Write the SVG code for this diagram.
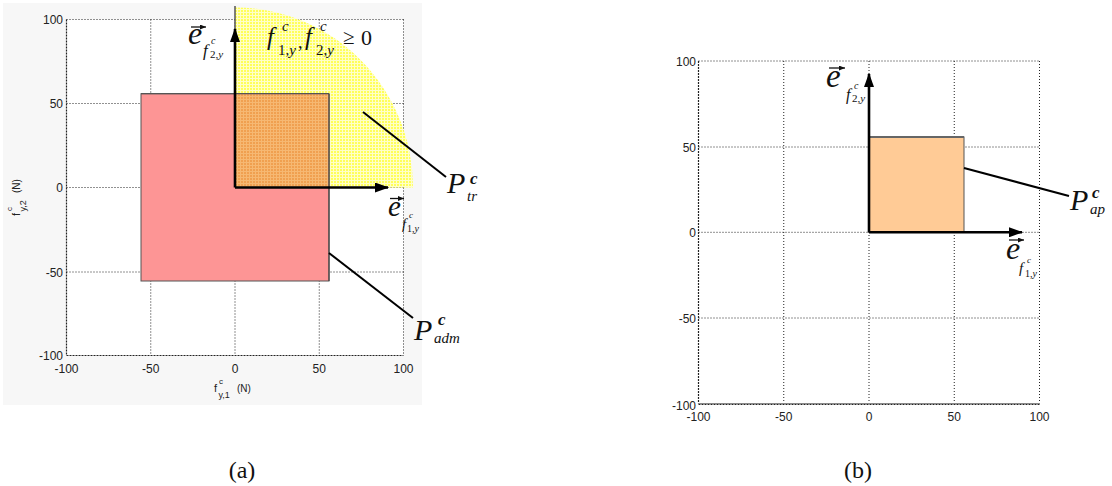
<svg xmlns="http://www.w3.org/2000/svg" width="1112" height="486" viewBox="0 0 1112 486">
<style>
.tick{font-family:"Liberation Sans",Arial,sans-serif;font-size:12px;fill:#222}
.grid{stroke:#222;stroke-width:1;stroke-dasharray:1,2;fill:none}
.axis{stroke:#222;stroke-width:1.2;stroke-dasharray:2,1;fill:none}
.vec{stroke:#000;stroke-width:2.6;fill:none}
.lead{stroke:#000;stroke-width:2;fill:none}
.m{font-family:"Liberation Serif","Times New Roman",serif;font-style:italic;fill:#111}
.r{font-family:"Liberation Serif","Times New Roman",serif;fill:#111}
.acc{stroke:#111;stroke-width:1.3;fill:none}
.cap{font-family:"Liberation Serif","Times New Roman",serif;font-size:24px;fill:#111}
</style>
<defs>
<marker id="ah" markerUnits="userSpaceOnUse" markerWidth="14" markerHeight="10" refX="13" refY="5" orient="auto">
<path d="M0,0 L14,5 L0,10 Z" fill="#000"/>
</marker>
<marker id="sa" markerUnits="userSpaceOnUse" markerWidth="6" markerHeight="5" refX="6" refY="2.5" orient="auto">
<path d="M0,0 L6,2.5 L0,5 Z" fill="#111"/>
</marker>
<pattern id="yel" width="3" height="3" patternUnits="userSpaceOnUse">
<rect width="3" height="3" fill="#ffff5a"/>
<rect width="3" height="1" fill="#ffffc8"/>
<rect width="1" height="3" fill="#ffffc8"/>
</pattern>
<pattern id="org" width="3" height="3" patternUnits="userSpaceOnUse">
<rect width="3" height="3" fill="#f0a050"/>
<rect width="3" height="1" fill="#f6b872"/>
<rect width="1" height="3" fill="#f6b872"/>
</pattern>
</defs>

<rect width="1112" height="486" fill="#fff"/>

<!-- Panel (a) -->
<g id="panel-a">
<rect x="3" y="3" width="419" height="402" fill="#f7f7f7"/>
<rect x="66.5" y="19.5" width="337" height="336" fill="#fff"/>
<g id="grid-a">
<line class="grid" x1="150.75" y1="19.5" x2="150.75" y2="355.5"/>
<line class="grid" x1="235" y1="19.5" x2="235" y2="355.5"/>
<line class="grid" x1="319.25" y1="19.5" x2="319.25" y2="355.5"/>
<line class="grid" x1="403.5" y1="19.5" x2="403.5" y2="355.5"/>
<line class="grid" x1="66.5" y1="19.5" x2="403.5" y2="19.5"/>
<line class="grid" x1="66.5" y1="103.5" x2="403.5" y2="103.5"/>
<line class="grid" x1="66.5" y1="187.5" x2="403.5" y2="187.5"/>
<line class="grid" x1="66.5" y1="272" x2="403.5" y2="272"/>
<line class="axis" x1="66.5" y1="19.5" x2="66.5" y2="355.5"/>
<line class="axis" x1="66.5" y1="355.5" x2="403.5" y2="355.5"/>
</g>
<g id="ticks-a" class="tick">
<text x="63" y="24" text-anchor="end">100</text>
<text x="63" y="108" text-anchor="end">50</text>
<text x="63" y="192" text-anchor="end">0</text>
<text x="63" y="277" text-anchor="end">-50</text>
<text x="63" y="360" text-anchor="end">-100</text>
<text x="66.5" y="373" text-anchor="middle">-100</text>
<text x="150.75" y="373" text-anchor="middle">-50</text>
<text x="235" y="373" text-anchor="middle">0</text>
<text x="319.25" y="373" text-anchor="middle">50</text>
<text x="403.5" y="373" text-anchor="middle">100</text>
</g>
<g id="xlabel-a" font-family="Liberation Sans, Arial, sans-serif" fill="#222">
<text x="214" y="392" font-size="11">f</text>
<text x="219" y="384" font-size="8">c</text>
<text x="218.5" y="398" font-size="9">y,1</text>
<text x="237" y="392" font-size="10">(N)</text>
</g>
<g id="ylabel-a" font-family="Liberation Sans, Arial, sans-serif" fill="#222" transform="translate(20,216) rotate(-90)">
<text x="0" y="0" font-size="11">f</text>
<text x="5" y="-8" font-size="8">c</text>
<text x="4.5" y="6" font-size="9">y,2</text>
<text x="23" y="0" font-size="10">(N)</text>
</g>
</g>

<g id="region-tr">
<path d="M235,187.5 L235,7.5 A178,180 0 0 1 413,187.5 Z" fill="url(#yel)"/>
<line x1="235" y1="6" x2="235" y2="35" stroke="#555" stroke-width="1.5"/>
</g>
<g id="region-adm">
<rect x="141" y="93.7" width="188" height="187.3" fill="#fd9595" stroke="#555" stroke-width="1"/>
<rect x="235" y="94.2" width="93.5" height="93.3" fill="url(#org)"/>
<line x1="141" y1="93.7" x2="329" y2="93.7" stroke="#555" stroke-width="1.2"/>
<line x1="329" y1="93.7" x2="329" y2="281" stroke="#444" stroke-width="1.2"/>
</g>

<!-- Panel (b) -->
<g id="panel-b">
<g id="grid-b">
<line class="grid" x1="783.75" y1="61" x2="783.75" y2="403.5"/>
<line class="grid" x1="869" y1="61" x2="869" y2="403.5"/>
<line class="grid" x1="954.25" y1="61" x2="954.25" y2="403.5"/>
<line class="grid" x1="1039.5" y1="61" x2="1039.5" y2="403.5"/>
<line class="grid" x1="698.5" y1="61" x2="1039.5" y2="61"/>
<line class="grid" x1="698.5" y1="147" x2="1039.5" y2="147"/>
<line class="grid" x1="698.5" y1="232.3" x2="1039.5" y2="232.3"/>
<line class="grid" x1="698.5" y1="318" x2="1039.5" y2="318"/>
<line class="axis" x1="698.5" y1="61" x2="698.5" y2="403.5"/>
<line x1="698.5" y1="403.5" x2="1039.5" y2="403.5" stroke="#888" stroke-width="1.2"/>
<line class="axis" x1="698.5" y1="404.5" x2="1039.5" y2="404.5"/>
</g>
<g id="ticks-b" class="tick">
<text x="696" y="65.5" text-anchor="end">100</text>
<text x="696" y="151.5" text-anchor="end">50</text>
<text x="696" y="237" text-anchor="end">0</text>
<text x="696" y="323" text-anchor="end">-50</text>
<text x="696" y="410" text-anchor="end">-100</text>
<text x="698.5" y="421" text-anchor="middle">-100</text>
<text x="783.75" y="421" text-anchor="middle">-50</text>
<text x="869" y="421" text-anchor="middle">0</text>
<text x="954.25" y="421" text-anchor="middle">50</text>
<text x="1039.5" y="421" text-anchor="middle">100</text>
</g>
</g>
<g id="region-ap">
<rect x="869" y="137" width="95" height="95.3" fill="#ffcb96" stroke="#555" stroke-width="1"/>
<line x1="869" y1="137" x2="964" y2="137" stroke="#666" stroke-width="2"/>
</g>

<!-- Connectors: axis vectors and leader lines -->
<g id="connectors">
<line class="vec" x1="235" y1="187.5" x2="235" y2="29" marker-end="url(#ah)"/>
<line class="vec" x1="235" y1="187.5" x2="388" y2="187.5" marker-end="url(#ah)"/>
<line class="lead" x1="363" y1="112" x2="446" y2="177"/>
<line class="lead" x1="329" y1="253" x2="413" y2="318"/>
<line class="vec" x1="869" y1="232.3" x2="869" y2="74" marker-end="url(#ah)"/>
<line class="vec" x1="869" y1="232.3" x2="1022" y2="232.3" marker-end="url(#ah)"/>
<line class="lead" x1="964" y1="168" x2="1069" y2="196"/>
</g>

<!-- Labels -->
<g id="label-e-f2y-a">
<line class="acc" x1="191" y1="27" x2="206" y2="27" marker-end="url(#sa)"/>
<text class="m" x="188" y="44" font-size="32">e</text>
<text class="m" x="203" y="56" font-size="17">f</text>
<text class="m" x="211" y="44" font-size="10">c</text>
<text class="r" x="210" y="58" font-size="11">2,<tspan font-style="italic">y</tspan></text>
</g>
<g id="label-constraint">
<text class="m" x="267" y="45" font-size="25">f</text>
<text class="m" x="282" y="31" font-size="15">c</text>
<text class="r" x="278" y="55" font-size="15">1,<tspan font-style="italic">y</tspan></text>
<text class="r" x="298" y="48" font-size="18">,</text>
<text class="m" x="305" y="45" font-size="25">f</text>
<text class="m" x="320" y="31" font-size="15">c</text>
<text class="r" x="316" y="55" font-size="15">2,<tspan font-style="italic">y</tspan></text>
<text class="r" x="343" y="44" font-size="21">≥</text>
<text class="r" x="361" y="45" font-size="22">0</text>
</g>
<g id="label-e-f1y-a">
<line class="acc" x1="390" y1="198.5" x2="404" y2="198.5" marker-end="url(#sa)"/>
<text class="m" x="388" y="216" font-size="29">e</text>
<text class="m" x="402" y="229" font-size="15">f</text>
<text class="m" x="409" y="218" font-size="9">c</text>
<text class="r" x="407" y="232" font-size="10">1,<tspan font-style="italic">y</tspan></text>
</g>
<g id="label-P-tr">
<text class="m" x="447" y="193" font-size="30">P</text>
<text class="m" x="470" y="184" font-size="17" font-weight="bold">c</text>
<text class="m" x="467" y="201" font-size="15">tr</text>
</g>
<g id="label-P-adm">
<text class="m" x="414" y="340" font-size="30">P</text>
<text class="m" x="438" y="325" font-size="17" font-weight="bold">c</text>
<text class="m" x="434" y="343" font-size="15">adm</text>
</g>
<g id="label-e-f2y-b">
<line class="acc" x1="829" y1="68" x2="845" y2="68" marker-end="url(#sa)"/>
<text class="m" x="826" y="87" font-size="33">e</text>
<text class="m" x="846" y="100" font-size="16">f</text>
<text class="m" x="854" y="89" font-size="10">c</text>
<text class="r" x="852" y="102" font-size="11">2,<tspan font-style="italic">y</tspan></text>
</g>
<g id="label-P-ap">
<text class="m" x="1070" y="210" font-size="30">P</text>
<text class="m" x="1092" y="198" font-size="17" font-weight="bold">c</text>
<text class="m" x="1090" y="214" font-size="15">ap</text>
</g>
<g id="label-e-f1y-b">
<line class="acc" x1="1009" y1="240" x2="1024" y2="240" marker-end="url(#sa)"/>
<text class="m" x="1006" y="259" font-size="32">e</text>
<text class="m" x="1019" y="273" font-size="15">f</text>
<text class="m" x="1027" y="263" font-size="9">c</text>
<text class="r" x="1025" y="277" font-size="10">1,<tspan font-style="italic">y</tspan></text>
</g>

<g id="captions">
<text class="cap" x="242" y="478" text-anchor="middle">(a)</text>
<text class="cap" x="858" y="478" text-anchor="middle">(b)</text>
</g>
</svg>
